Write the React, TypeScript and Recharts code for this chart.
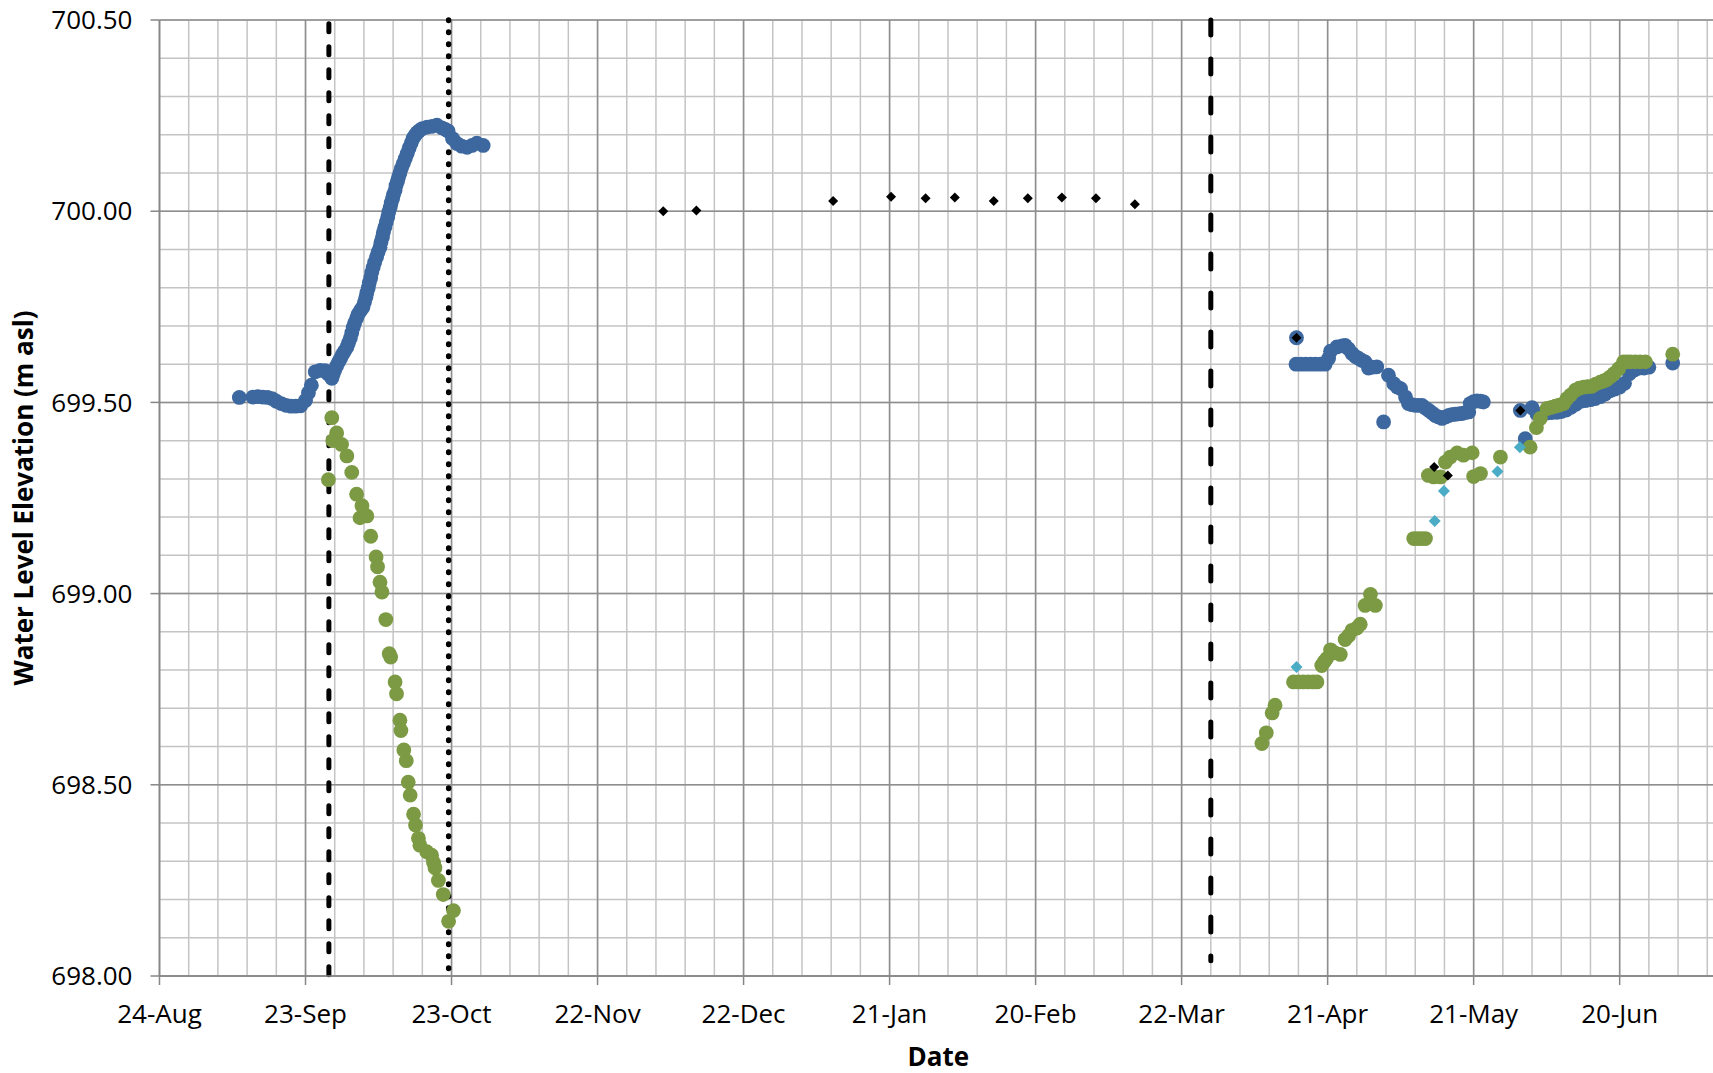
import { ScatterChart, Scatter, XAxis, YAxis, CartesianGrid, ReferenceLine, Label } from 'recharts';

// x values are days counted from 24-Aug, y values are water level (m asl)
const DAY_TICKS = [0, 30, 60, 90, 120, 150, 180, 210, 240, 270, 300];
const DAY_LABELS = ['24-Aug', '23-Sep', '23-Oct', '22-Nov', '22-Dec', '21-Jan', '20-Feb', '22-Mar', '21-Apr', '21-May', '20-Jun'];
const MINOR_DAYS = Array.from({ length: 54 }, (_, i) => i * 6);
const LEVEL_TICKS = [698, 698.5, 699, 699.5, 700, 700.5];
const MINOR_LEVELS = Array.from({ length: 26 }, (_, i) => 698 + i * 0.1);

// logger, early record
const blueFall: [number, number][] = [
  [16.4, 699.513], [19.2, 699.514], [20.2, 699.515], [21.2, 699.514], [22.2, 699.513], [23.1, 699.51],
  [24.0, 699.503], [25.0, 699.497], [26.0, 699.492], [27.0, 699.49], [28.0, 699.49], [29.0, 699.491],
  [30.0, 699.505], [30.6, 699.525], [31.2, 699.545], [32.0, 699.58], [33.0, 699.584], [34.0, 699.583],
  [34.6, 699.575], [35.4, 699.563], [35.7, 699.575], [36.0, 699.585], [36.4, 699.596], [36.8, 699.606],
  [37.2, 699.615], [37.6, 699.625], [38.0, 699.634], [38.5, 699.644], [38.8, 699.655], [39.2, 699.668],
  [39.5, 699.682], [39.8, 699.696], [40.1, 699.708], [40.5, 699.72], [40.8, 699.73], [41.2, 699.738],
  [41.5, 699.744], [41.8, 699.749], [42.1, 699.762], [42.4, 699.775], [42.6, 699.787], [42.9, 699.8],
  [43.1, 699.813], [43.4, 699.826], [43.6, 699.84], [43.9, 699.853], [44.2, 699.866], [44.6, 699.88],
  [44.9, 699.893], [45.3, 699.906], [45.5, 699.919], [45.8, 699.932], [46.0, 699.945], [46.3, 699.958],
  [46.6, 699.972], [46.9, 699.985], [47.1, 699.998], [47.4, 700.01], [47.6, 700.022], [47.9, 700.033],
  [48.1, 700.044], [48.4, 700.055], [48.6, 700.067], [48.9, 700.078], [49.1, 700.089], [49.4, 700.1],
  [49.7, 700.112], [50.1, 700.125], [50.5, 700.138], [50.9, 700.151], [51.3, 700.165], [51.7, 700.178],
  [52.1, 700.19], [52.5, 700.198], [52.9, 700.205], [53.3, 700.21], [54.0, 700.216], [55.0, 700.22],
  [56.0, 700.222], [57.0, 700.225], [58.0, 700.218], [58.7, 700.214], [59.3, 700.21], [60.2, 700.19],
  [61.1, 700.177], [62.1, 700.17], [63.2, 700.167], [64.2, 700.172], [65.2, 700.178], [66.5, 700.172],
];

// logger, spring record
const blueSpring: [number, number][] = [
  [233.6, 699.669], [233.5, 699.6], [234.5, 699.6], [235.5, 699.6], [236.5, 699.6], [237.5, 699.6],
  [238.5, 699.6], [239.5, 699.6], [240.2, 699.615], [240.6, 699.634], [241.9, 699.645], [243.0, 699.648],
  [243.6, 699.649], [244.3, 699.64], [245.0, 699.628], [245.7, 699.62], [246.4, 699.615], [247.0, 699.61],
  [247.7, 699.606], [248.4, 699.59], [249.2, 699.592], [250.1, 699.593], [251.5, 699.449], [252.5, 699.571],
  [253.6, 699.549], [254.3, 699.54], [255.0, 699.536], [256.0, 699.514], [256.6, 699.497], [257.3, 699.494],
  [258.0, 699.492], [258.7, 699.492], [259.4, 699.492], [260.1, 699.485], [260.8, 699.479], [261.5, 699.472],
  [262.1, 699.466], [262.8, 699.462], [263.5, 699.458], [264.2, 699.462], [264.9, 699.466], [265.5, 699.468],
  [266.2, 699.469], [266.9, 699.47], [267.6, 699.471], [268.3, 699.473], [269.0, 699.475], [269.3, 699.497],
  [270.0, 699.502], [270.7, 699.504], [271.4, 699.503], [272.0, 699.501],
  [279.6, 699.479], [280.6, 699.405], [282.0, 699.486], [283.0, 699.47], [284.0, 699.47], [285.0, 699.472],
  [286.0, 699.473], [287.1, 699.474], [288.0, 699.476], [289.0, 699.48], [290.0, 699.487], [291.0, 699.495],
  [292.0, 699.503], [293.0, 699.505], [294.0, 699.507], [295.0, 699.51], [296.0, 699.515], [297.0, 699.522],
  [298.0, 699.53], [299.0, 699.535], [300.0, 699.54], [301.0, 699.55], [302.0, 699.575], [303.0, 699.585],
  [304.0, 699.59], [305.0, 699.59], [306.0, 699.592], [310.9, 699.603],
];

// second well, falling limb after the dashed line
const greenFall: [number, number][] = [
  [34.7, 699.298], [35.4, 699.46], [35.6, 699.4], [36.4, 699.42], [37.4, 699.39], [38.5, 699.36],
  [39.5, 699.317], [40.5, 699.26], [41.2, 699.198], [41.6, 699.23], [42.6, 699.203], [43.4, 699.15],
  [44.5, 699.096], [44.8, 699.07], [45.3, 699.03], [45.7, 699.004], [46.5, 698.932], [47.2, 698.843],
  [47.5, 698.834], [48.4, 698.769], [48.7, 698.738], [49.4, 698.669], [49.6, 698.642], [50.2, 698.591],
  [50.7, 698.563], [51.1, 698.507], [51.5, 698.473], [52.2, 698.423], [52.6, 698.395], [53.2, 698.36],
  [53.5, 698.342], [54.9, 698.325], [55.9, 698.316], [56.3, 698.297], [56.6, 698.283], [57.3, 698.25],
  [58.3, 698.213], [59.4, 698.143], [60.4, 698.171],
];

const greenSpring: [number, number][] = [
  [226.5, 698.608], [227.4, 698.636], [228.6, 698.688], [229.2, 698.708], [233.0, 698.769], [234.0, 698.769],
  [235.0, 698.769], [236.0, 698.769], [237.0, 698.769], [237.8, 698.769], [238.8, 698.812], [239.3, 698.822],
  [239.8, 698.83], [240.6, 698.853], [241.5, 698.845], [242.6, 698.841], [243.6, 698.88], [244.3, 698.89],
  [245.0, 698.904], [246.0, 698.91], [246.7, 698.92], [247.7, 698.969], [248.8, 698.998], [249.8, 698.969],
  [257.7, 699.144], [258.5, 699.144], [259.3, 699.144], [260.1, 699.144], [260.7, 699.309], [261.8, 699.305],
  [263.2, 699.305], [264.2, 699.344], [265.2, 699.357], [266.6, 699.368], [267.9, 699.362], [269.7, 699.368],
  [270.0, 699.306], [271.4, 699.314], [275.5, 699.357], [281.6, 699.383], [282.9, 699.434], [283.7, 699.458],
  [285.1, 699.484], [286.0, 699.487], [286.8, 699.49], [287.6, 699.493], [288.5, 699.497], [289.2, 699.51],
  [289.9, 699.519], [290.9, 699.532], [291.7, 699.537], [292.6, 699.54], [293.4, 699.541], [294.3, 699.542],
  [295.1, 699.548], [296.0, 699.553], [296.7, 699.556], [297.4, 699.56], [298.1, 699.567], [298.8, 699.575],
  [299.8, 699.588], [300.8, 699.606], [301.5, 699.606], [302.2, 699.606], [303.2, 699.606], [304.2, 699.606],
  [305.3, 699.606], [310.9, 699.626],
];

// manual readings
const manualBlack: [number, number][] = [
  [103.5, 700.0], [110.3, 700.002], [138.4, 700.027], [150.3, 700.038], [157.4, 700.034], [163.4, 700.036],
  [171.4, 700.027], [178.4, 700.034], [185.4, 700.036], [192.4, 700.034], [200.4, 700.018],
  [233.6, 699.669], [261.9, 699.331], [264.7, 699.309], [279.6, 699.479],
];

const manualAqua: [number, number][] = [
  [233.6, 698.808], [262.0, 699.19], [263.9, 699.268], [274.9, 699.319], [279.5, 699.383],
];

// event lines: [day, bottom level, top level]
const dashedEvent: [number, number, number] = [34.8, 698.0, 700.49];
const dottedEvent: [number, number, number] = [59.4, 698.0, 700.5];
const longDashEvent: [number, number, number] = [216, 698.04, 700.5];

const BLUE = '#3D689F';
const GREEN = '#7B9A43';
const AQUA = '#4BACC6';
const AXIS = '#868686';
const FONT = '"Open Sans", "Noto Sans", sans-serif';

const toPoints = (rows: [number, number][]) => rows.map(([x, y]) => ({ x, y }));

const circle = (fill: string) => (props: any) => (
  <circle cx={props.cx} cy={props.cy} r={7.4} fill={fill} />
);

const diamond = (fill: string, h: number) => (props: any) => {
  const { cx, cy } = props;
  return <path d={`M${cx},${cy - h}L${cx + h},${cy}L${cx},${cy + h}L${cx - h},${cy}Z`} fill={fill} />;
};

const YTitle = ({ viewBox }: any) => {
  const cy = viewBox.y + viewBox.height / 2;
  return (
    <text x={33} y={cy} transform={`rotate(-90, 33, ${cy})`} textAnchor="middle"
      fontFamily={FONT} fontWeight={700} fontSize={26} fill="#000">
      Water Level Elevation (m asl)
    </text>
  );
};

const XTitle = ({ viewBox }: any) => (
  <text x={viewBox.x + viewBox.width / 2} y={1066} textAnchor="middle"
    fontFamily={FONT} fontWeight={700} fontSize={26} fill="#000">
    Date
  </text>
);

const eventLine = (ev: [number, number, number], dash: string, width: number) => (
  <ReferenceLine
    segment={[{ x: ev[0], y: ev[2] }, { x: ev[0], y: ev[1] }]}
    stroke="#000"
    shape={(p: any) => (
      <line x1={p.x1} y1={p.y1} x2={p.x2} y2={p.y2} stroke="#000" strokeWidth={width}
        strokeDasharray={dash} strokeLinecap="round" />
    )}
  />
);

export default function App() {
  return (
    <div style={{ position: 'absolute', left: 0, top: 0, width: 1713, height: 1073, overflow: 'hidden', background: '#fff' }}>
      <ScatterChart width={1720} height={1073} margin={{ top: 20, right: 3, bottom: 0, left: 0.5 }}>
        <CartesianGrid verticalValues={MINOR_DAYS} horizontalValues={MINOR_LEVELS} stroke="#C4C4C4" strokeWidth={1.5} />
        <CartesianGrid verticalValues={DAY_TICKS} horizontalValues={LEVEL_TICKS} stroke="#8E8E8E" strokeWidth={1.5} />
        <XAxis
          dataKey="x"
          type="number"
          domain={[0, 320]}
          ticks={DAY_TICKS}
          interval={0}
          tickFormatter={(v: number) => DAY_LABELS[DAY_TICKS.indexOf(v)]}
          height={97}
          tickSize={9}
          tickMargin={20}
          axisLine={{ stroke: AXIS, strokeWidth: 1.5 }}
          tickLine={{ stroke: AXIS, strokeWidth: 1.5 }}
          tick={{ fill: '#000', fontSize: 26, fontFamily: FONT }}
          allowDataOverflow
        >
          <Label content={XTitle} />
        </XAxis>
        <YAxis
          dataKey="y"
          type="number"
          domain={[698, 700.5]}
          ticks={LEVEL_TICKS}
          interval={0}
          tickFormatter={(v: number) => v.toFixed(2)}
          width={159}
          tickSize={9}
          tickMargin={18}
          axisLine={{ stroke: AXIS, strokeWidth: 1.5 }}
          tickLine={{ stroke: AXIS, strokeWidth: 1.5 }}
          tick={{ fill: '#000', fontSize: 26, fontFamily: FONT }}
          allowDataOverflow
        >
          <Label content={YTitle} />
        </YAxis>
        {eventLine(dashedEvent, '8 15', 5)}
        {eventLine(dottedEvent, '0.6 11.4', 5.4)}
        {eventLine(longDashEvent, '15 24', 5)}
        <Scatter data={toPoints(blueFall)} shape={circle(BLUE)} isAnimationActive={false} />
        <Scatter data={toPoints(blueSpring)} shape={circle(BLUE)} isAnimationActive={false} />
        <Scatter data={toPoints(greenFall)} shape={circle(GREEN)} isAnimationActive={false} />
        <Scatter data={toPoints(greenSpring)} shape={circle(GREEN)} isAnimationActive={false} />
        <Scatter data={toPoints(manualAqua)} shape={diamond(AQUA, 6)} isAnimationActive={false} />
        <Scatter data={toPoints(manualBlack)} shape={diamond('#000', 5)} isAnimationActive={false} />
      </ScatterChart>
    </div>
  );
}
